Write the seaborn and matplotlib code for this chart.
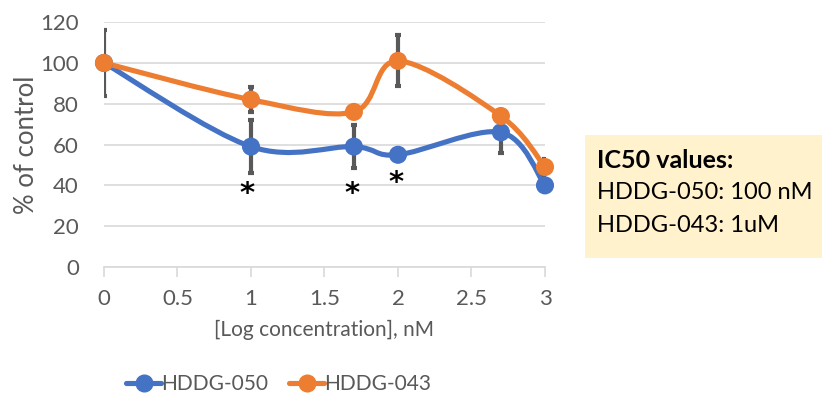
import numpy as np
import pandas as pd
import matplotlib
matplotlib.use("Agg")
import matplotlib.pyplot as plt
from matplotlib.path import Path
from matplotlib.patches import PathPatch, Rectangle
from matplotlib.lines import Line2D
import seaborn as sns

###############################################################################
# Data
###############################################################################
log_conc = [0, 1, 1.7, 2, 2.7, 3]
series_names = ["HDDG-050", "HDDG-043"]
hddg050 = [100, 59, 59, 55, 66, 40]
hddg043 = [100, 82, 76, 101, 74, 49]
hddg050_err = [16, 13, 10.5, 0, 10, 0]
hddg043_err = [0, 6, 0, 12.5, 0, 4]
star_x = [0.97, 1.69, 1.99]
star_y = [36, 36, 41]
x_ticks = [0, 0.5, 1, 1.5, 2, 2.5, 3]
y_ticks = [0, 20, 40, 60, 80, 100, 120]
ic50_lines = ["IC50 values:", "HDDG-050: 100 nM", "HDDG-043: 1uM"]

colors = ["#4472C4", "#ED7D31"]
grey = "#595959"

df = pd.DataFrame({
    "x": log_conc * 2,
    "y": hddg050 + hddg043,
    "series": [series_names[0]] * len(log_conc) + [series_names[1]] * len(log_conc),
})

sns.set_theme(style="white")
plt.rcParams["font.family"] = ["Lato", "DejaVu Sans"]


def smooth_path(xs, ys):
    # Excel-like smoothed line: cubic Bezier segments (Catmull-Rom controls)
    pts = np.column_stack([xs, ys]).astype(float)
    ext = np.vstack([pts[0], pts, pts[-1]])
    verts = [tuple(pts[0])]
    codes = [Path.MOVETO]
    for i in range(1, len(ext) - 2):
        p0, p1, p2, p3 = ext[i - 1], ext[i], ext[i + 1], ext[i + 2]
        c1 = p1 + (p2 - p0) / 6.0
        c2 = p2 - (p3 - p1) / 6.0
        verts += [tuple(c1), tuple(c2), tuple(p2)]
        codes += [Path.CURVE4] * 3
    return Path(verts, codes)


fig = plt.figure(figsize=(8.22, 3.95), dpi=100)
ax = fig.add_axes([0.1265, 0.324, 0.5365, 0.62])

ax.set_xlim(0, 3)
ax.set_ylim(0, 120)
ax.set_yticks(y_ticks)
ax.set_xticks(x_ticks)
ax.set_xticklabels([f"{t:g}" for t in x_ticks])
ax.grid(axis="y", color="#D9D9D9", linewidth=1.2)
ax.set_axisbelow(True)
for s in ["top", "right", "left"]:
    ax.spines[s].set_visible(False)
ax.spines["bottom"].set_color("#D9D9D9")
ax.spines["bottom"].set_linewidth(1.2)
ax.tick_params(axis="x", which="major", bottom=True, length=7, width=1.2,
               color="#D9D9D9", labelsize=16, labelcolor=grey, pad=9)
ax.tick_params(axis="y", left=False, labelsize=16, labelcolor=grey, pad=12)

vals = [hddg050, hddg043]
errs = [hddg050_err, hddg043_err]
for i, name in enumerate(series_names):
    ax.add_patch(PathPatch(smooth_path(log_conc, vals[i]), fill=False,
                           edgecolor=colors[i], linewidth=3.7,
                           capstyle="round", joinstyle="round",
                           zorder=3 + 2 * i))
    ax.errorbar(log_conc, vals[i], yerr=errs[i], fmt="none", ecolor=grey,
                elinewidth=3, capsize=2.2, capthick=3, zorder=2 + 2 * i)

sns.scatterplot(data=df, x="x", y="y", hue="series", palette=colors,
                s=170, edgecolor="none", legend=False, ax=ax, zorder=6,
                clip_on=False)

for sx, sy in zip(star_x, star_y):
    ax.text(sx, sy, "*", fontsize=21, fontweight="bold", ha="center",
            va="center", color="black", family="DejaVu Sans")

ax.set_xlabel("[Log concentration], nM", fontsize=15, color=grey, labelpad=8)
ax.set_ylabel("% of control", fontsize=18.5, color=grey, labelpad=1)

handles = [Line2D([0], [0], color=c, linewidth=3.7, marker="o",
                  markersize=12) for c in colors]
fig.legend(handles, series_names, loc="center", bbox_to_anchor=(0.339, 0.027),
           ncol=2, frameon=False, fontsize=15, handlelength=1.7,
           handletextpad=0.0, columnspacing=1.0, labelcolor=grey)

# IC50 text box
fig.patches.append(Rectangle((585 / 822, 1 - 258 / 395), 237 / 822, 123 / 395,
                             transform=fig.transFigure, facecolor="#FFF2CC",
                             edgecolor="none"))
for j, line in enumerate(ic50_lines):
    fig.text(597 / 822, 1 - (161 + 32 * j) / 395, line,
             fontsize=18 if j == 0 else 17, ha="left", va="center",
             color="black", fontweight="bold" if j == 0 else "normal")

fig.savefig("out.png", dpi=100)
